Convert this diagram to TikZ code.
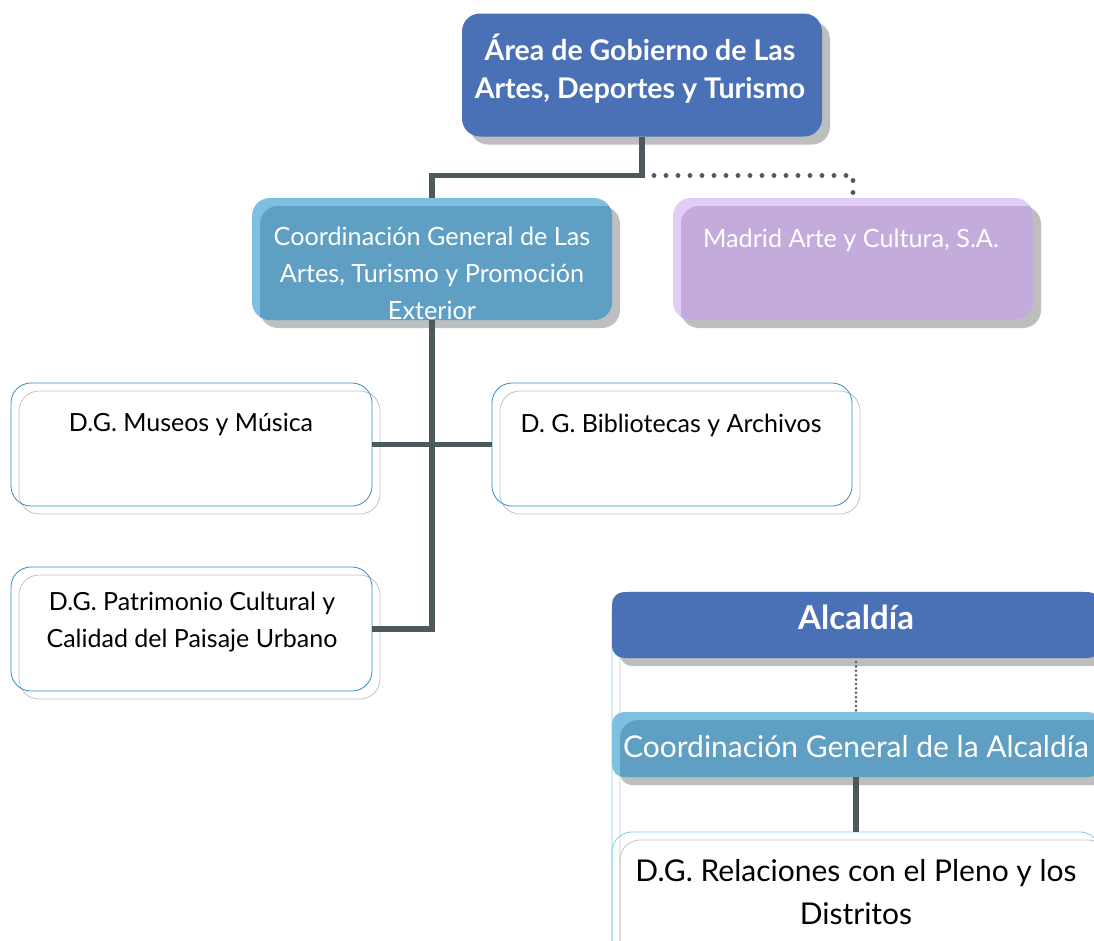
\documentclass[tikz,border=0pt]{standalone}
\usepackage{fontspec}
\setmainfont{Lato}
\usetikzlibrary{shadows,calc}
\definecolor{areablue}{HTML}{4A71B5}
\definecolor{coordlight}{HTML}{7EC0E1}
\definecolor{coorddark}{HTML}{5E9FC3}
\definecolor{purplelight}{HTML}{E1CDF8}
\definecolor{purpledark}{HTML}{C3ABDB}
\definecolor{shadowgray}{HTML}{BEBEBE}
\definecolor{connector}{HTML}{4D5A5C}
\definecolor{outlineblue}{HTML}{2F8ED2}
\definecolor{outlinegray}{HTML}{C4C4C4}
\definecolor{framecyan}{HTML}{7FCDEE}
\tikzset{
  boxbase/.style={inner sep=0pt, outer sep=0pt},
  solidbox/.style={boxbase, rounded corners=18pt,
    general shadow={fill=shadowgray, shadow xshift=8pt, shadow yshift=-8pt}},
  layerbox/.style 2 args={solidbox, fill=#1,
    path picture={\fill[#2, rounded corners=18pt]
      ([xshift=8pt,yshift=-8pt]path picture bounding box.north west) rectangle
      ([xshift=30pt,yshift=-30pt]path picture bounding box.south east);}},
  outlinebox/.style={boxbase, rounded corners=20pt, draw=outlineblue, line width=0.8pt},
  ghost/.style={draw=outlinegray, line width=0.8pt, rounded corners=20pt},
  conn/.style={draw=connector, line width=5.5pt},
  dotconn/.style={draw=connector, line width=4.8pt, line cap=round, dash pattern=on 0pt off 12pt},
  smalldotconn/.style={draw=connector, line width=2.8pt, line cap=round, dash pattern=on 0pt off 4.4pt},
  whitetext/.style={text=white, align=center, font=\fontsize{25.2}{37}\selectfont},
  boldtext/.style={text=white, align=center, font=\bfseries\fontsize{28.5}{38}\selectfont},
  blacktext/.style={text=black, align=center, font=\fontsize{25}{37}\selectfont},
}
\begin{document}
\begin{tikzpicture}[x=1pt,y=-1pt]
\useasboundingbox (0,0) rectangle (1094,940);
\clip (0,0) rectangle (1094,940);
\fill[white] (0,0) rectangle (1094,940);

% bottom-right panel frame
\draw[framecyan, line width=0.8pt, rounded corners=20pt] (612,592) rectangle (1100,980);
\draw[outlinegray, line width=0.8pt, rounded corners=20pt] (620,600) rectangle (1108,988);

% top boxes
\node[solidbox, fill=areablue, minimum width=360pt, minimum height=123pt] (a) at (642,75) {};
\node[layerbox={coordlight}{coorddark}, minimum width=360pt, minimum height=122pt] (c) at (432,259) {};
\node[layerbox={purplelight}{purpledark}, minimum width=360pt, minimum height=122pt] (m) at (853,259) {};

% white outline boxes
\draw[ghost] (19,391) rectangle (380,514);
\node[outlinebox, minimum width=361pt, minimum height=123pt] (mu) at (191.5,444.5) {};
\draw[ghost] (500,391) rectangle (860,514);
\node[outlinebox, minimum width=360pt, minimum height=123pt] (b) at (672,444.5) {};
\draw[ghost] (19,575) rectangle (380,699);
\node[outlinebox, minimum width=361pt, minimum height=124pt] (p) at (191.5,629) {};

% bottom-right boxes
\node[solidbox, rounded corners=12pt, fill=areablue, minimum width=488pt, minimum height=66pt] (al) at (856,625) {};
\node[layerbox={coordlight}{coorddark}, rounded corners=12pt, minimum width=488pt, minimum height=65pt] (ca) at (856,744.5) {};
\draw[ghost] (620,840) rectangle (1108,990);
\node[outlinebox, draw=framecyan, minimum width=488pt, minimum height=150pt] (r) at (856,907) {};

% texts
\node[boldtext] (ta) at (640,69) {Área de Gobierno de Las\\Artes, Deportes y Turismo};
\begin{scope}
\clip[rounded corners=18pt] (252,198) rectangle (612,320);
\node[whitetext] (tc) at (432,273) {Coordinación General de Las\\Artes, Turismo y Promoción\\Exterior};
\end{scope}
\node[whitetext] (tm) at (851,240) {Madrid Arte y Cultura, S.A.};
\node[blacktext] (tmu) at (191,425) {D.G. Museos y Música};
\node[blacktext] (tb) at (671,425) {D. G. Bibliotecas y Archivos};
\node[blacktext] (tp) at (192,622) {D.G. Patrimonio Cultural y\\Calidad del Paisaje Urbano};
\node[boldtext, font=\bfseries\fontsize{33}{38}\selectfont] (tal) at (856,617) {Alcaldía};
\node[whitetext, font=\fontsize{30}{36}\selectfont] (tca) at (856,747) {Coordinación General de la Alcaldía};
\node[blacktext, font=\fontsize{30}{43}\selectfont] (tr) at (856,892) {D.G. Relaciones con el Pleno y los\\Distritos};

% connectors
\draw[conn] (a.south) -- ++(0,39) -| (c.north);
\draw[dotconn] (a.south) ++(12,39) -| (m.north);
\draw[conn] (c.south) |- (p.east);
\draw[conn] (mu.east) -- (b.west);
\draw[smalldotconn] (al.south) ++(0,4) -- (ca.north);
\draw[conn] (ca.south) -- (r.north);
\end{tikzpicture}
\end{document}
